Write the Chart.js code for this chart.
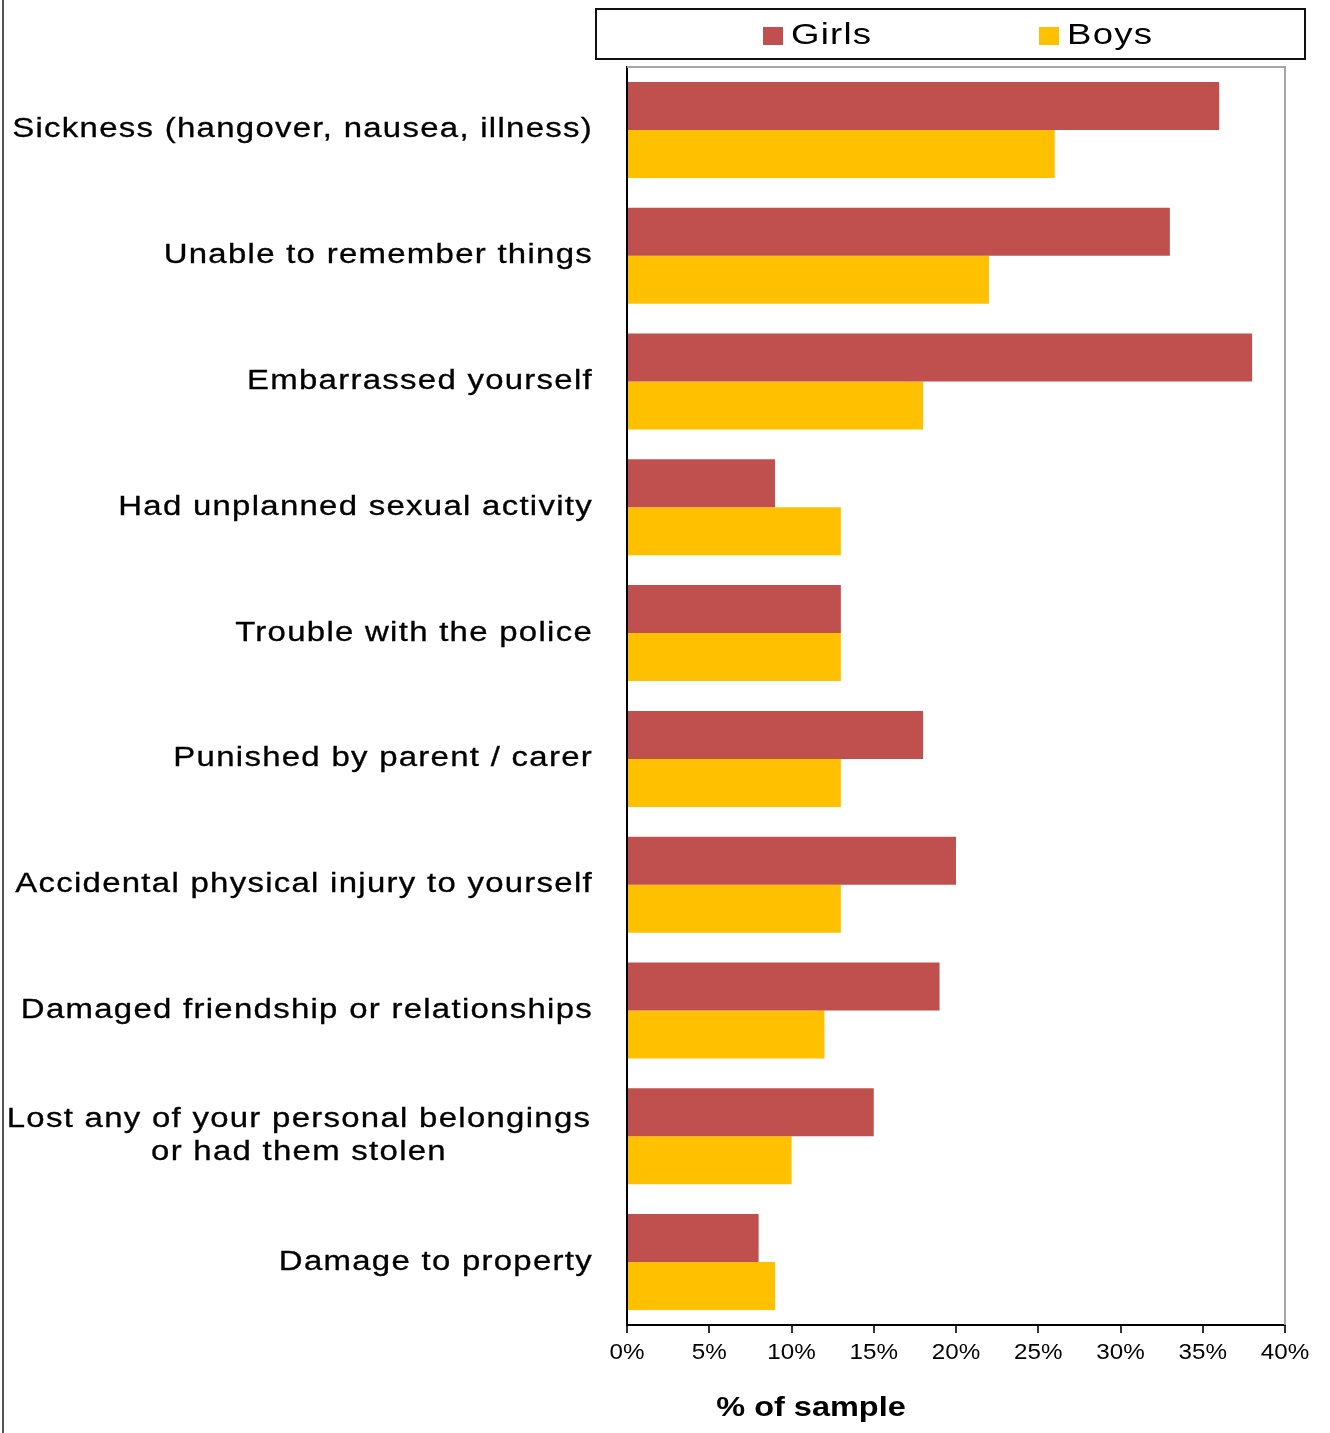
<!DOCTYPE html>
<html>
<head>
<meta charset="utf-8">
<title>Consequences of drinking by gender</title>
<script src="https://cdn.jsdelivr.net/npm/chart.js@4.4.1/dist/chart.umd.min.js"></script>
<style>
  html, body { margin: 0; padding: 0; background: #ffffff; }
  #wrap { width: 1330px; height: 1433px; position: relative; }
  canvas { display: block; }
</style>
</head>
<body>
<div id="wrap"><canvas id="chart" width="1330" height="1433"></canvas></div>
<script>
// ---- data ----
const categories = [
  'Sickness (hangover, nausea, illness)',
  'Unable to remember things',
  'Embarrassed yourself',
  'Had unplanned sexual activity',
  'Trouble with the police',
  'Punished by parent / carer',
  'Accidental physical injury to yourself',
  'Damaged friendship or relationships',
  ['Lost any of your personal belongings', 'or had them stolen'],
  'Damage to property'
];
const girls = [36, 33, 38, 9, 13, 18, 20, 19, 15, 8];
const boys  = [26, 22, 18, 13, 13, 13, 13, 12, 10, 9];
const seriesNames = ['Girls', 'Boys'];
const tickValues = [0, 5, 10, 15, 20, 25, 30, 35, 40];
const axisTitle = '% of sample';

// ---- styles ----
const GIRLS_COLOR = '#C0504D';
const BOYS_COLOR = '#FFC000';
const FONT = '"Liberation Sans", Arial, sans-serif';

// Draws tick labels horizontally widened by `labelStretch`, keeping anchors in place.
function stretchedLabels(scale, area, draw) {
  const ctx = scale.ctx;
  const sx = scale.options.labelStretch || 1;
  ctx.save();
  ctx.scale(sx, 1);
  ctx.letterSpacing = scale.options.letterSpacing || '0px';
  scale._stretch = sx;
  draw(area);
  scale._stretch = 1;
  ctx.restore();
}
function unstretchItems(scale, items, wrapCenter) {
  const sx = scale._stretch || 1;
  return items.map(it => {
    const t = it.options.translation;
    const wrapped = Array.isArray(it.label) && wrapCenter != null;
    return {
      ...it,
      options: {
        ...it.options,
        textAlign: wrapped ? 'center' : it.options.textAlign,
        translation: [(wrapped ? wrapCenter : t[0]) / sx, t[1]]
      }
    };
  });
}

// Category axis: widened labels, wrapped labels centred in the label column.
class WideCategoryScale extends Chart.CategoryScale {
  static id = 'wideCategory';
  getLabelItems(area) {
    return unstretchItems(this, super.getLabelItems(area), this.options.wrapCenter);
  }
  drawLabels(area) {
    stretchedLabels(this, area, a => super.drawLabels(a));
  }
}

// Value axis: widened labels and a widened, horizontally offset title.
class WideLinearScale extends Chart.LinearScale {
  static id = 'wideLinear';
  getLabelItems(area) {
    return unstretchItems(this, super.getLabelItems(area), null);
  }
  drawLabels(area) {
    stretchedLabels(this, area, a => super.drawLabels(a));
  }
  drawTitle() {
    const ctx = this.ctx;
    const cx = (this.left + this.right) / 2;
    ctx.save();
    ctx.translate(cx + (this.options.titleShift || 0), 0);
    ctx.scale(this.options.titleStretch || 1, 1);
    ctx.translate(-cx, 0);
    super.drawTitle();
    ctx.restore();
  }
}
Chart.register(WideCategoryScale, WideLinearScale);

// Page rule on the left, plot frame (top/right) and a boxed legend.
const decorations = {
  id: 'decorations',
  beforeDraw(chart) {
    const { ctx, width, height } = chart;
    ctx.save();
    ctx.fillStyle = '#ffffff';
    ctx.fillRect(0, 0, width, height);
    ctx.fillStyle = '#555555';
    ctx.fillRect(2, 0, 2, height);
    ctx.restore();
  },
  afterDraw(chart) {
    const { ctx, chartArea: a } = chart;
    ctx.save();
    ctx.strokeStyle = '#a6a6a6';
    ctx.lineWidth = 2;
    ctx.beginPath();
    ctx.moveTo(a.left, a.top);
    ctx.lineTo(a.right, a.top);
    ctx.lineTo(a.right, a.bottom);
    ctx.stroke();

    ctx.strokeStyle = '#111111';
    ctx.lineWidth = 2;
    ctx.strokeRect(596, 9, 709, 50);
    const itemX = [763, 1039];
    chart.data.datasets.forEach((ds, i) => {
      ctx.fillStyle = ds.backgroundColor;
      ctx.fillRect(itemX[i], 27, 20, 18);
      ctx.save();
      ctx.translate(itemX[i] + 28, 36);
      ctx.scale(1.22, 1);
      ctx.font = '30px ' + FONT;
      ctx.textBaseline = 'middle';
      ctx.textAlign = 'left';
      ctx.letterSpacing = '1px';
      ctx.fillStyle = '#000000';
      ctx.fillText(ds.label, 0, 0);
      ctx.restore();
    });
    ctx.restore();
  }
};

new Chart(document.getElementById('chart'), {
  type: 'bar',
  data: {
    labels: categories,
    datasets: [
      { label: seriesNames[0], data: girls, backgroundColor: GIRLS_COLOR },
      { label: seriesNames[1], data: boys, backgroundColor: BOYS_COLOR }
    ]
  },
  options: {
    indexAxis: 'y',
    responsive: false,
    animation: false,
    devicePixelRatio: 1,
    layout: { padding: { top: 67, right: 45, bottom: 0, left: 0 } },
    datasets: { bar: { categoryPercentage: 0.763, barPercentage: 1.0, borderWidth: 0 } },
    plugins: { legend: { display: false }, tooltip: { enabled: false } },
    scales: {
      y: {
        type: 'wideCategory',
        position: 'left',
        offset: true,
        labelStretch: 1.22,
        letterSpacing: '1.05px',
        wrapCenter: 299,
        grid: { display: false, drawTicks: false, drawOnChartArea: false },
        border: { display: true, color: '#000000', width: 2 },
        ticks: {
          color: '#000000',
          padding: 34,
          font: { family: FONT, size: 27, lineHeight: 1.22 },
          textStrokeColor: '#000000',
          textStrokeWidth: 0.3,
          autoSkip: false
        },
        afterFit(scale) { scale.width = 627; }
      },
      x: {
        type: 'wideLinear',
        position: 'bottom',
        min: 0,
        max: 40,
        labelStretch: 1.1,
        titleShift: -145,
        titleStretch: 1.16,
        afterBuildTicks(scale) { scale.ticks = tickValues.map(v => ({ value: v })); },
        grid: { display: true, drawOnChartArea: false, drawTicks: true, tickLength: 8, color: '#333333', lineWidth: 2 },
        border: { display: true, color: '#000000', width: 2 },
        ticks: {
          color: '#000000',
          padding: 7,
          maxRotation: 0,
          autoSkip: false,
          font: { family: FONT, size: 22 },
          callback: v => v + '%'
        },
        title: {
          display: true,
          text: axisTitle,
          color: '#000000',
          font: { family: FONT, size: 28, weight: 'bold' },
          padding: { top: 4, bottom: 8 }
        },
        afterFit(scale) { scale.height = 108; }
      }
    }
  },
  plugins: [decorations]
});
</script>
</body>
</html>
